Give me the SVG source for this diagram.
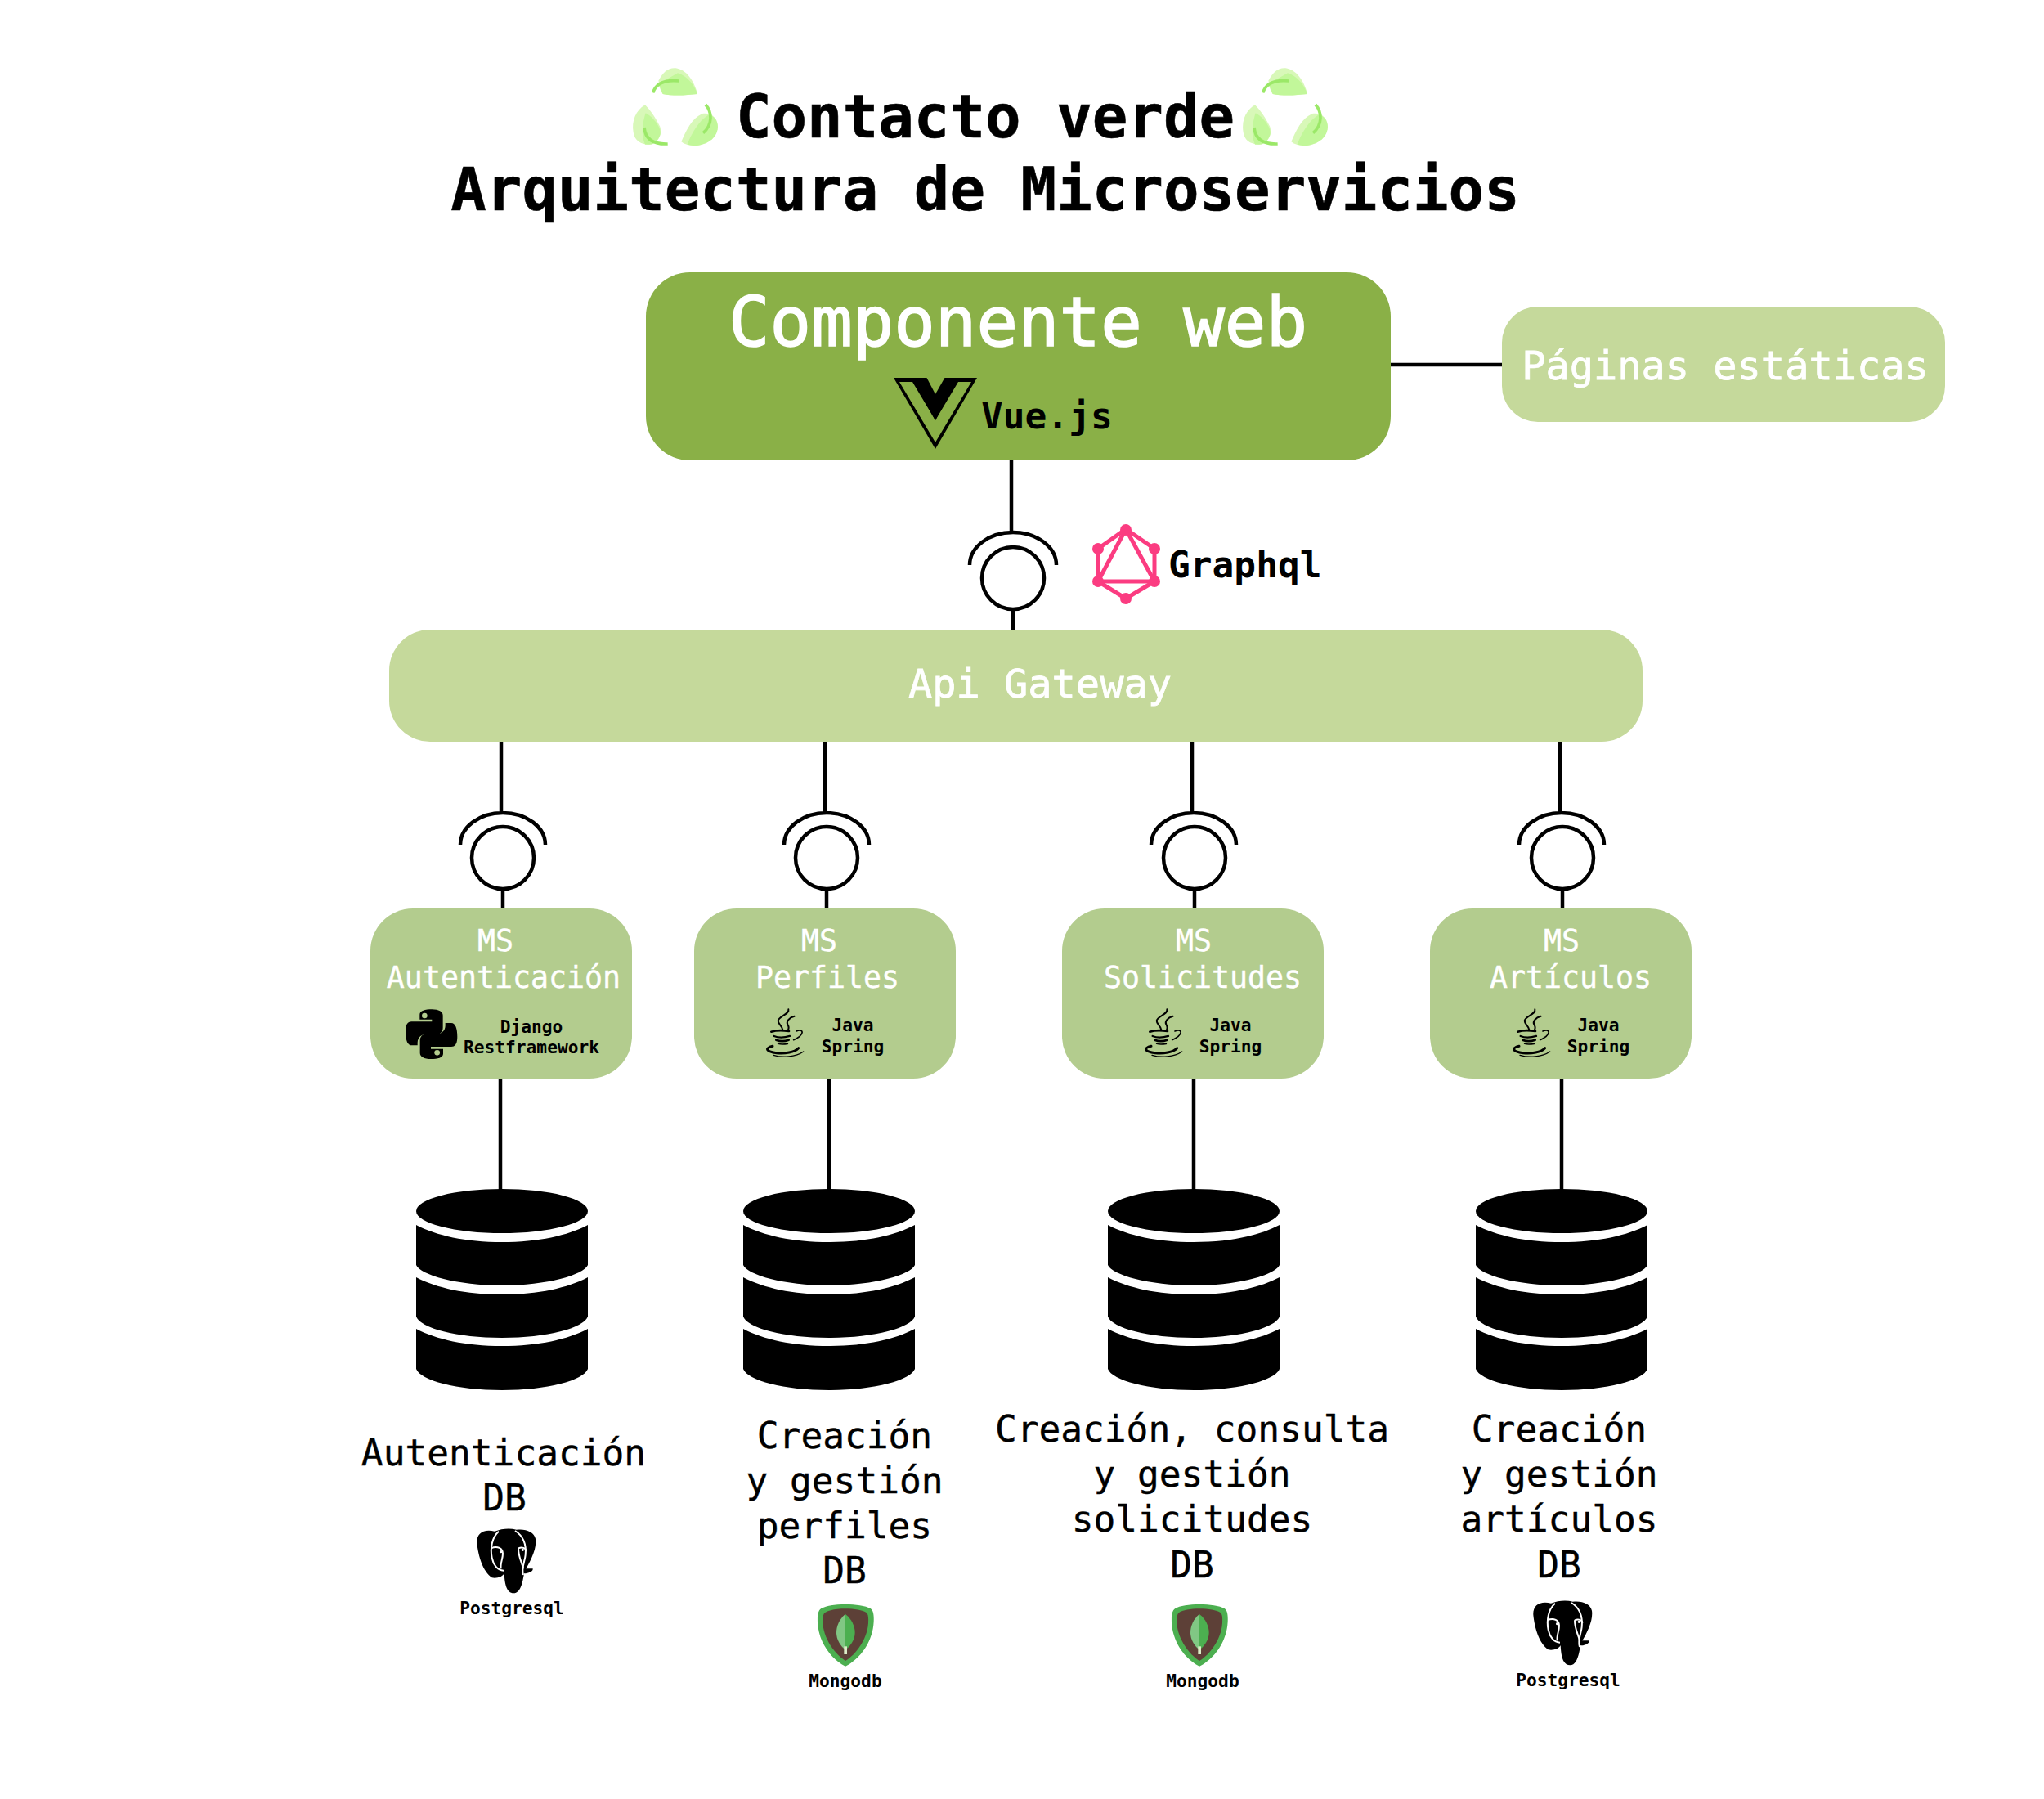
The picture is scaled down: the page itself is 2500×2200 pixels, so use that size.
<svg xmlns="http://www.w3.org/2000/svg" width="2500" height="2200" viewBox="0 0 2500 2200">
<style>
text{font-family:"DejaVu Sans Mono","Liberation Mono",monospace;text-anchor:middle}
.title{font-size:72.4px;font-weight:700;fill:#000;stroke:#000;stroke-width:.6px}
.b44{font-size:44.5px;font-weight:700;fill:#000;text-anchor:start}
.w48{font-size:48.6px;fill:#fff;stroke:#fff;stroke-width:.8px}
.w84{font-size:84px;fill:#fff;stroke:#fff;stroke-width:1.6px}
.ms{font-size:36.6px;fill:#fff;stroke:#fff;stroke-width:.4px}
.sm{font-size:21.2px;font-weight:700;fill:#000}
.db{font-size:44.5px;fill:#000;stroke:#000;stroke-width:.4px}
.cn{fill:none;stroke:#000;stroke-width:4.5}
.cr{fill:#fff;stroke:#000;stroke-width:4.5}
.ms-box{fill:#B3CC8E}
.java{fill:none;stroke:#000;stroke-linecap:round}
</style>
<defs>
<g id="recycle" transform="scale(.3333)">
<path d="M200 115C215 85 235 68 262 70C300 75 330 115 342 165C300 170 250 172 215 165C205 150 198 130 200 115Z" fill="#D8F8B8"/>
<path d="M200 128C225 112 250 100 270 88C305 100 330 130 342 165C300 170 250 172 215 165Z" fill="#C2F79A"/>
<path d="M179 160C190 125 225 112 275 117" fill="none" stroke="#9BE868" stroke-width="11"/>
<path d="M150 205C115 225 100 265 107 305C112 340 140 352 175 350C205 335 212 310 205 285C190 255 170 225 150 205Z" fill="#D8F8B8"/>
<path d="M152 235C180 250 212 290 205 315C195 345 175 352 150 350C135 320 140 270 152 235Z" fill="#C2F79A"/>
<path d="M147 288C150 325 175 350 233 348" fill="none" stroke="#9BE868" stroke-width="11"/>
<path d="M283 340C300 300 320 255 360 237C395 232 418 255 416 290C410 330 375 352 330 355C310 354 295 350 283 340Z" fill="#D8F8B8"/>
<path d="M305 350C320 310 345 265 385 240C410 250 420 270 416 295C408 335 370 352 330 355Z" fill="#C2F79A"/>
<path d="M372 204C395 230 400 275 363 308" fill="none" stroke="#9BE868" stroke-width="11"/>
</g>
<g id="dbicon">
<ellipse cx="105" cy="27" rx="105" ry="27"/>
<path d="M0 44C25 57 60 65 105 65C150 65 185 57 210 44V93C205 105 160 118 105 118C50 118 5 105 0 93Z"/>
<path d="M0 108C25 121 60 129 105 129C150 129 185 121 210 108V156C205 170 160 182 105 182C50 182 5 170 0 156Z"/>
<path d="M0 171C25 184 60 192 105 192C150 192 185 184 210 171V220C205 234 160 246 105 246C50 246 5 234 0 220Z"/>
</g>
<g id="java" transform="scale(.3333)">
<path class="java" stroke-width="6" d="M133 70C138 88 96 95 95 112C95 125 110 130 112 145"/>
<path class="java" stroke-width="6" d="M155 95C135 100 124 115 130 125C136 135 136 140 130 148"/>
<path class="java" stroke-width="8" d="M70 152C90 146 115 147 135 150"/>
<path class="java" stroke-width="7" d="M80 168C95 174 120 173 138 168"/>
<path class="java" stroke-width="8" d="M88 182C100 187 120 187 134 182"/>
<path class="java" stroke-width="5" d="M95 196C105 199 120 198 130 196"/>
<path class="java" stroke-width="5" d="M162 150C192 138 192 165 152 182"/>
<path class="java" stroke-width="9" d="M75 205C45 212 50 225 90 230C120 233 155 228 170 212"/>
<path class="java" stroke-width="4" d="M78 238C110 248 160 245 188 225"/>
</g>
<g id="pg" transform="scale(.3333)">
<path d="M135 68C95 58 68 75 70 110C75 160 92 215 125 238C142 242 165 235 170 222C172 260 178 295 205 295C230 295 238 255 243 222C255 225 278 215 275 205L250 205C270 170 290 130 285 95C280 70 250 58 215 62C190 55 160 58 135 68Z"/>
<g fill="none" stroke="#fff" stroke-width="6">
<path d="M150 68C125 90 118 130 125 165C130 190 145 212 168 212"/>
<path d="M122 130C145 120 165 130 165 150C165 170 155 185 158 205"/>
<path d="M210 66C240 85 252 115 248 155C246 180 232 200 240 228"/>
<path d="M222 130C235 125 250 128 250 140M222 130C222 165 235 180 240 205"/>
</g>
<circle cx="158" cy="143" r="5" fill="#fff"/><circle cx="238" cy="136" r="5" fill="#fff"/>
</g>
<g id="mongo" transform="scale(.3333)">
<path d="M222 96C260 96 295 100 315 112C325 120 327 135 326 160C322 240 270 300 222 323C175 300 123 240 120 160C119 135 122 120 132 112C150 100 185 96 222 96Z" fill="#4CAF50"/>
<path d="M222 112C255 112 285 117 300 127C306 133 307 145 306 165C302 225 260 280 222 303C185 280 143 225 139 165C138 145 140 133 146 127C160 117 190 112 222 112Z" fill="#5D4037"/>
<path d="M222 132C200 150 189 175 189 200C189 225 205 250 222 262Z" fill="#81C784"/>
<path d="M222 132C245 150 257 175 257 200C257 225 240 250 222 262Z" fill="#4CAF50"/>
<rect x="217" y="250" width="11" height="29" fill="#DCEDC8"/>
</g>
<path id="pyhalf" d="M130 92C130 78 150 73 175 73C200 73 215 82 215 95V140C215 155 205 165 190 165H150C135 165 122 178 122 195V205H100C85 205 78 185 78 155C78 130 85 118 100 118H175V110H130Z"/>
</defs>

<g id="connectors">
<path class="cn" d="M1701 446H1837"/>
<path class="cn" d="M1237 562V651"/>
<path class="cn" d="M1186 691A53 40 0 0 1 1292 691"/>
<path class="cn" d="M1239 745V770"/>
<path class="cn" d="M613 907V994M563 1033A52 39 0 0 1 667 1033M615 1088V1111M612 1319V1455"/>
<path class="cn" d="M1009 907V994M959 1033A52 39 0 0 1 1063 1033M1011 1088V1111M1014 1319V1455"/>
<path class="cn" d="M1458 907V994M1408 1033A52 39 0 0 1 1512 1033M1461 1088V1111M1460 1319V1455"/>
<path class="cn" d="M1908 907V994M1858 1033A52 39 0 0 1 1962 1033M1911 1088V1111M1910 1319V1455"/>
<circle class="cr" cx="1239" cy="707" r="38"/>
<circle class="cr" cx="615" cy="1049" r="38"/>
<circle class="cr" cx="1011" cy="1049" r="38"/>
<circle class="cr" cx="1461" cy="1049" r="38"/>
<circle class="cr" cx="1911" cy="1049" r="38"/>
</g>

<g id="title">
<use href="#recycle" transform="translate(739,60)"/>
<use href="#recycle" transform="translate(1485,60)"/>
<text class="title" x="1205" y="168">Contacto verde</text>
<text class="title" x="1205" y="257">Arquitectura de Microservicios</text>
</g>

<g id="componente-web">
<rect x="790" y="333" width="911" height="230" rx="54" fill="#8AB047"/>
<text class="w84" x="1245" y="423">Componente web</text>
<path fill-rule="evenodd" d="M1093 462H1195L1144 549ZM1100 467L1144 541L1188 467H1172L1144 514L1116 467Z"/>
<path d="M1115 462H1172L1144 514Z"/>
<path d="M1133 461H1156L1144 482Z" fill="#8AB047"/>
<text class="b44" x="1200" y="524">Vue.js</text>
</g>

<g id="paginas-estaticas">
<rect x="1837" y="375" width="542" height="141" rx="44" fill="#C5D99B"/>
<text class="w48" x="2110" y="464">Páginas estáticas</text>
</g>

<g id="graphql">
<g fill="none" stroke="#FB3C81" stroke-width="5">
<path d="M1377 647L1412 671V711L1377 732L1343 711V671Z"/>
<path d="M1377 647L1412 711H1343Z"/>
</g>
<g fill="#FB3C81">
<circle cx="1377" cy="648" r="7"/><circle cx="1412" cy="671" r="7"/><circle cx="1412" cy="711" r="7"/><circle cx="1377" cy="732" r="7"/><circle cx="1343" cy="711" r="7"/><circle cx="1343" cy="671" r="7"/>
</g>
<text class="b44" x="1429" y="706">Graphql</text>
</g>

<g id="api-gateway">
<rect x="476" y="770" width="1533" height="137" rx="50" fill="#C5D99B"/>
<text class="w48" x="1272" y="853">Api Gateway</text>
</g>

<g id="ms-autenticacion">
<rect class="ms-box" x="453" y="1111" width="320" height="208" rx="52"/>
<text class="ms" x="606" y="1163">MS</text>
<text class="ms" x="616" y="1208">Autenticación</text>
<g transform="translate(470,1210) scale(.3333)">
<use href="#pyhalf"/>
<use href="#pyhalf" transform="rotate(180 173 164)"/>
<circle cx="148" cy="96" r="10" fill="#B3CC8E"/><circle cx="194" cy="232" r="10" fill="#B3CC8E"/>
</g>
<text class="sm" x="650" y="1263">Django</text>
<text class="sm" x="650" y="1288">Restframework</text>
</g>

<g id="ms-perfiles">
<rect class="ms-box" x="849" y="1111" width="320" height="208" rx="52"/>
<text class="ms" x="1002" y="1163">MS</text>
<text class="ms" x="1012" y="1208">Perfiles</text>
<use href="#java" transform="translate(920,1211)"/>
<text class="sm" x="1043" y="1261">Java</text>
<text class="sm" x="1043" y="1287">Spring</text>
</g>

<g id="ms-solicitudes">
<rect class="ms-box" x="1299" y="1111" width="320" height="208" rx="52"/>
<text class="ms" x="1460" y="1163">MS</text>
<text class="ms" x="1471" y="1208">Solicitudes</text>
<use href="#java" transform="translate(1383,1211)"/>
<text class="sm" x="1505" y="1261">Java</text>
<text class="sm" x="1505" y="1287">Spring</text>
</g>

<g id="ms-articulos">
<rect class="ms-box" x="1749" y="1111" width="320" height="208" rx="52"/>
<text class="ms" x="1910" y="1163">MS</text>
<text class="ms" x="1921" y="1208">Artículos</text>
<use href="#java" transform="translate(1833,1211)"/>
<text class="sm" x="1955" y="1261">Java</text>
<text class="sm" x="1955" y="1287">Spring</text>
</g>

<g id="db-autenticacion">
<use href="#dbicon" transform="translate(509,1454)"/>
<text class="db" x="616" y="1792">Autenticación</text>
<text class="db" x="617" y="1847">DB</text>
<use href="#pg" transform="translate(560,1850)"/>
<text class="sm" x="626" y="1974">Postgresql</text>
</g>

<g id="db-perfiles">
<use href="#dbicon" transform="translate(909,1454)"/>
<text class="db" x="1033" y="1771">Creación</text>
<text class="db" x="1033" y="1826">y gestión</text>
<text class="db" x="1033" y="1881">perfiles</text>
<text class="db" x="1033" y="1936">DB</text>
<use href="#mongo" transform="translate(960,1930)"/>
<text class="sm" x="1034" y="2063">Mongodb</text>
</g>

<g id="db-solicitudes">
<use href="#dbicon" transform="translate(1355,1454)"/>
<text class="db" x="1458" y="1763">Creación, consulta</text>
<text class="db" x="1458" y="1818">y gestión</text>
<text class="db" x="1458" y="1873">solicitudes</text>
<text class="db" x="1458" y="1929">DB</text>
<use href="#mongo" transform="translate(1393,1930)"/>
<text class="sm" x="1471" y="2063">Mongodb</text>
</g>

<g id="db-articulos">
<use href="#dbicon" transform="translate(1805,1454)"/>
<text class="db" x="1907" y="1763">Creación</text>
<text class="db" x="1907" y="1818">y gestión</text>
<text class="db" x="1907" y="1873">artículos</text>
<text class="db" x="1907" y="1929">DB</text>
<use href="#pg" transform="translate(1852,1938)"/>
<text class="sm" x="1918" y="2062">Postgresql</text>
</g>
</svg>
